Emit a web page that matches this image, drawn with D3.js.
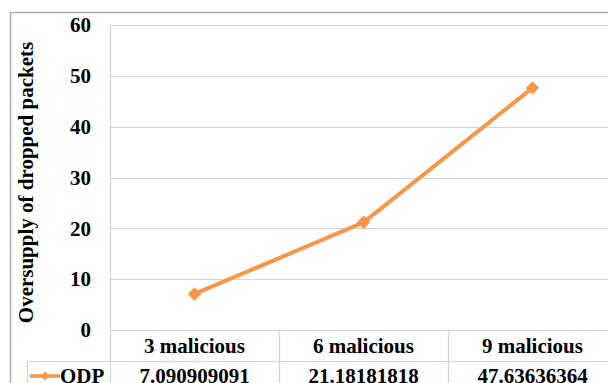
<!DOCTYPE html>
<html>
<head>
<meta charset="utf-8">
<script src="https://cdn.jsdelivr.net/npm/d3@7/dist/d3.min.js"></script>
<style>
  html, body { margin: 0; padding: 0; background: #fff; overflow: hidden; }
  svg { display: block; }
  text { font-family: "Liberation Serif", "Times New Roman", serif; font-weight: bold; fill: #000; }
</style>
</head>
<body>
<svg id="chart" width="608" height="383"></svg>
<script>
// Data
const categories = ["3 malicious", "6 malicious", "9 malicious"];
const seriesName = "ODP";
const odpValues = [7.090909091, 21.18181818, 47.63636364];
const yTicks = [0, 10, 20, 30, 40, 50, 60];
const valueLabels = ["7.090909091", "21.18181818", "47.63636364"];

const svg = d3.select("#chart");
const W = 608, H = 383;

const plot = { left: 110, right: 617, top: 25, bottom: 330 };
const orange = "#f79646";
const grid = "#d4d4d4";
const fs = 21;

// Outer chart frame
svg.append("rect")
  .attr("x", 10.5).attr("y", 12.5)
  .attr("width", 700).attr("height", 500)
  .attr("fill", "none").attr("stroke", "#b0b0b0").attr("stroke-width", 1.5);

const x = d3.scaleBand().domain(categories).range([plot.left, plot.right]).padding(0);
const y = d3.scaleLinear().domain([0, 60]).range([plot.bottom, plot.top]);

// Horizontal gridlines
svg.append("g").selectAll("line").data(yTicks).join("line")
  .attr("x1", plot.left).attr("x2", plot.right)
  .attr("y1", d => Math.round(y(d)) + 0.5).attr("y2", d => Math.round(y(d)) + 0.5)
  .attr("stroke", grid).attr("stroke-width", 1.2);

// Plot left edge
svg.append("line")
  .attr("x1", plot.left + 0.5).attr("x2", plot.left + 0.5)
  .attr("y1", plot.top).attr("y2", H)
  .attr("stroke", grid).attr("stroke-width", 1.2);

// Y tick labels
const yAxis = d3.axisLeft(y).tickValues(yTicks).tickSize(0).tickPadding(0);
const gy = svg.append("g").attr("transform", "translate(91,0)").call(yAxis);
gy.select(".domain").remove();
gy.selectAll("text")
  .attr("font-family", "Liberation Serif, serif")
  .attr("font-weight", "bold")
  .attr("font-size", fs)
  .attr("fill", "#000");

// Y axis title
svg.append("text")
  .attr("transform", `translate(33,${(plot.top + plot.bottom) / 2 + 5}) rotate(-90)`)
  .attr("text-anchor", "middle")
  .attr("font-size", fs)
  .text("Oversupply of dropped packets");

// Data table beneath the plot
const rowTop = 361;
svg.append("line")
  .attr("x1", 27).attr("x2", plot.right)
  .attr("y1", rowTop + 0.5).attr("y2", rowTop + 0.5)
  .attr("stroke", grid).attr("stroke-width", 1.2);
svg.append("line")
  .attr("x1", 27.5).attr("x2", 27.5)
  .attr("y1", rowTop).attr("y2", H)
  .attr("stroke", grid).attr("stroke-width", 1.2);
svg.append("g").selectAll("line").data(categories).join("line")
  .attr("x1", d => x(d) + x.bandwidth() + 0.5).attr("x2", d => x(d) + x.bandwidth() + 0.5)
  .attr("y1", plot.bottom).attr("y2", H)
  .attr("stroke", grid).attr("stroke-width", 1.2);

svg.append("g").selectAll("text").data(categories).join("text")
  .attr("x", d => x(d) + x.bandwidth() / 2)
  .attr("y", 353)
  .attr("text-anchor", "middle")
  .attr("font-size", fs)
  .text(d => d);

svg.append("g").selectAll("text").data(valueLabels).join("text")
  .attr("x", (d, i) => x(categories[i]) + x.bandwidth() / 2)
  .attr("y", 383)
  .attr("text-anchor", "middle")
  .attr("font-size", fs)
  .text(d => d);

// Legend key in the table
svg.append("line")
  .attr("x1", 30).attr("x2", 60)
  .attr("y1", 376).attr("y2", 376)
  .attr("stroke", orange).attr("stroke-width", 3.5);
svg.append("path")
  .attr("d", d3.symbol(d3.symbolSquare, 40)())
  .attr("transform", "translate(45,376) rotate(45)")
  .attr("fill", orange);
svg.append("text")
  .attr("x", 60).attr("y", 383)
  .attr("font-size", fs)
  .text(seriesName);

// Series line and markers
const pts = categories.map((c, i) => [x(c) + x.bandwidth() / 2, y(odpValues[i])]);
svg.append("path")
  .attr("d", d3.line()(pts))
  .attr("fill", "none")
  .attr("stroke", orange)
  .attr("stroke-width", 4)
  .attr("stroke-linejoin", "round");
svg.append("g").selectAll("path").data(pts).join("path")
  .attr("d", d3.symbol(d3.symbolSquare, 90)())
  .attr("transform", d => `translate(${d[0]},${d[1]}) rotate(45)`)
  .attr("fill", orange);
</script>
</body>
</html>
